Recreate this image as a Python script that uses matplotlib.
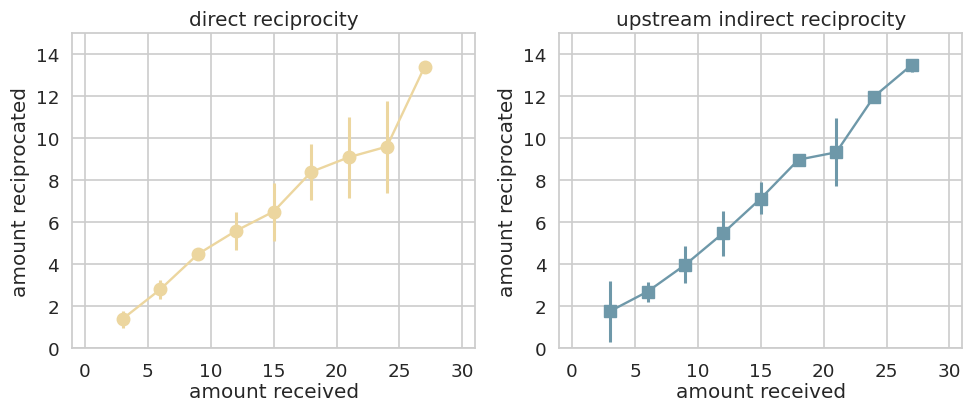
import numpy as np
import matplotlib
matplotlib.use('Agg')
import matplotlib.pyplot as plt
import seaborn as sns

sns.set_theme(context='notebook', style='whitegrid', font_scale=1.2)
plt.rcParams['grid.linewidth'] = 1.2

#%% data
received = [3, 6, 9, 12, 15, 18, 21, 24, 27]

direct_mean = [1.40, 2.81, 4.49, 5.59, 6.51, 8.40, 9.10, 9.60, 13.40]
direct_lo = [0.98, 2.35, 4.45, 4.70, 5.13, 7.05, 7.17, 7.40, 13.40]
direct_hi = [1.79, 3.25, 4.53, 6.48, 7.87, 9.73, 11.00, 11.78, 13.40]

upstream_mean = [1.76, 2.70, 3.98, 5.48, 7.13, 8.98, 9.33, 11.98, 13.49]
upstream_lo = [0.29, 2.22, 3.11, 4.41, 6.37, 8.98, 7.71, 11.98, 13.17]
upstream_hi = [3.19, 3.14, 4.86, 6.56, 7.90, 8.98, 10.95, 11.98, 13.78]

titles = ['direct reciprocity', 'upstream indirect reciprocity']
colors = ['#ecd69f', '#6e98a9']
markers = ['o', 's']

fig, axes = plt.subplots(1, 2, figsize=(9.64, 4.02), dpi=100)
series = [(direct_mean, direct_lo, direct_hi), (upstream_mean, upstream_lo, upstream_hi)]

for i, ax in enumerate(axes):
    m, lo, hi = series[i]
    m = np.array(m)
    yerr = [m - np.array(lo), np.array(hi) - m]
    ax.errorbar(received, m, yerr=yerr, color=colors[i], marker=markers[i],
                markersize=9 if i == 0 else 8.5, lw=1.7, elinewidth=2.2, capsize=0)
    ax.set_xlim(-1, 31)
    ax.set_ylim(0, 15)
    ax.set_xticks([0, 5, 10, 15, 20, 25, 30])
    ax.set_yticks(range(0, 15, 2))
    ax.set_xlabel('amount received', labelpad=2)
    ax.set_ylabel('amount reciprocated')
    ax.set_title(titles[i])

plt.subplots_adjust(left=0.075, right=0.998, bottom=0.131, top=0.915, wspace=0.21)
plt.savefig('out.png', dpi=100)
